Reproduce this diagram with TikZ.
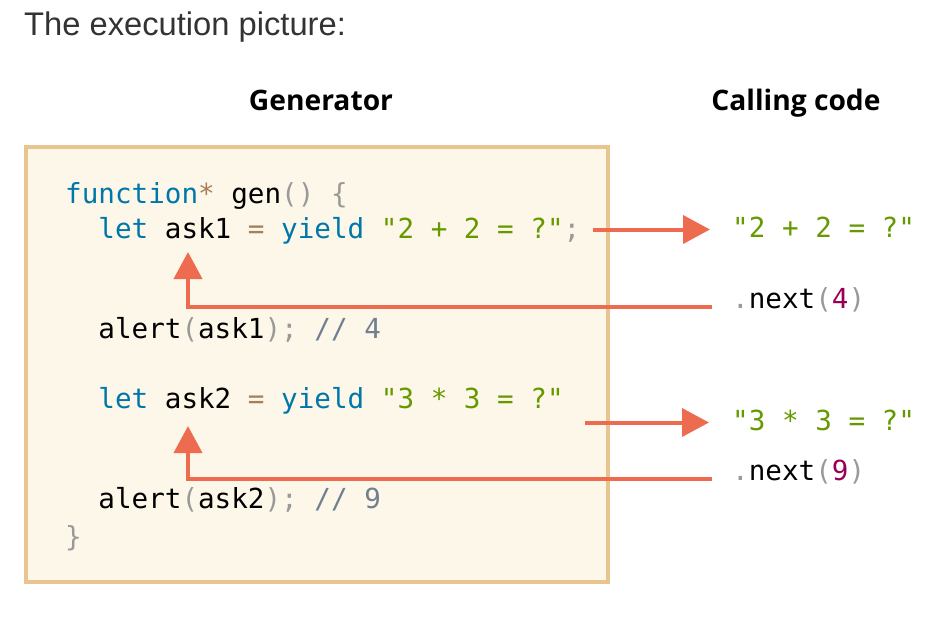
\documentclass[tikz,border=0pt]{standalone}
\usepackage{fontspec}
\setmainfont{Liberation Sans}
\setmonofont{DejaVu Sans Mono}
\newfontfamily\headfont{Open Sans}
\usetikzlibrary{positioning, arrows.meta, calc}

\definecolor{titlegray}{HTML}{333333}
\definecolor{boxfill}{HTML}{FDF7E9}
\definecolor{boxline}{HTML}{E8C48F}
\definecolor{arrowred}{HTML}{ED6B4F}
\definecolor{jskeyword}{HTML}{0077AA}
\definecolor{jsoperator}{HTML}{A67F59}
\definecolor{jsstring}{HTML}{669900}
\definecolor{jspunct}{HTML}{999999}
\definecolor{jscomment}{HTML}{708090}
\definecolor{jsnumber}{HTML}{990055}

\newcommand{\codefont}{\ttfamily\fontsize{27.6}{33}\selectfont\frenchspacing}
\newcommand{\jkw}[1]{\textcolor{jskeyword}{#1}}
\newcommand{\jop}[1]{\textcolor{jsoperator}{#1}}
\newcommand{\jstr}[1]{\textcolor{jsstring}{#1}}
\newcommand{\jpun}[1]{\textcolor{jspunct}{#1}}
\newcommand{\jcmt}[1]{\textcolor{jscomment}{#1}}
\newcommand{\jnum}[1]{\textcolor{jsnumber}{#1}}
\newcommand{\jind}{\hphantom{xx}}

\tikzset{
  codeline/.style={anchor=base west, inner sep=0pt, text height=20pt, text depth=5pt, font=\codefont},
  heading/.style={anchor=base, inner sep=0pt, font=\headfont\bfseries\fontsize{28.2}{33}\selectfont},
  codebox/.style={draw=boxline, fill=boxfill, line width=4pt},
  flow/.style={draw=arrowred, line width=4pt, -{Triangle[length=27pt, width=28pt]}}
}

\begin{document}
\begin{tikzpicture}[x=1pt, y=-1pt]
\useasboundingbox (0,0) rectangle (934,616);

\node[anchor=base west, inner sep=0pt, text=titlegray, font=\fontsize{32.7}{38}\selectfont] (title) at (24,35) {The execution picture:};

\node[heading] (genhead) at (321,110) {Generator};
\node[heading] (callhead) at (796,110) {Calling code};

% generator body
\draw[codebox] (26,147) rectangle (608,582);

\node[codeline] (genline) at (65,203) {\jkw{function}\jop{*} gen\jpun{() \{}};
\node[codeline] (ask1line) at (65,238) {\jind\jkw{let} ask1 \jop{=} \jkw{yield} \jstr{"2 + 2 = ?"}\jpun{;}};
\node[codeline] (alert1line) at (65,338) {\jind alert\jpun{(}ask1\jpun{);} \jcmt{// 4}};
\node[codeline] (ask2line) at (65,408) {\jind\jkw{let} ask2 \jop{=} \jkw{yield} \jstr{"3 * 3 = ?"}};
\node[codeline] (alert2line) at (65,508) {\jind alert\jpun{(}ask2\jpun{);} \jcmt{// 9}};
\node[codeline] (closeline) at (65,546) {\jpun{\}}};

% calling code
\node[codeline] (res1) at (732,237) {\jstr{"2 + 2 = ?"}};
\node[codeline] (next4) at (732,308) {\jpun{.}next\jpun{(}\jnum{4}\jpun{)}};
\node[codeline] (res2) at (732,430) {\jstr{"3 * 3 = ?"}};
\node[codeline] (next9) at (732,480) {\jpun{.}next\jpun{(}\jnum{9}\jpun{)}};

\coordinate (ask1in) at (188,252);
\coordinate (ask2in) at (188,426);

\draw[flow, shorten <=12pt, shorten >=22pt] (ask1line.east |- res1.west) -- (res1.west);
\draw[flow, shorten <=20pt] ([yshift=1pt]next4.base west) -| (ask1in);
\draw[flow, shorten <=21pt, shorten >=23pt] (ask2line.east |- res2.west) -- (res2.west);
\draw[flow, shorten <=20pt] ([yshift=1pt]next9.base west) -| (ask2in);
\end{tikzpicture}
\end{document}
